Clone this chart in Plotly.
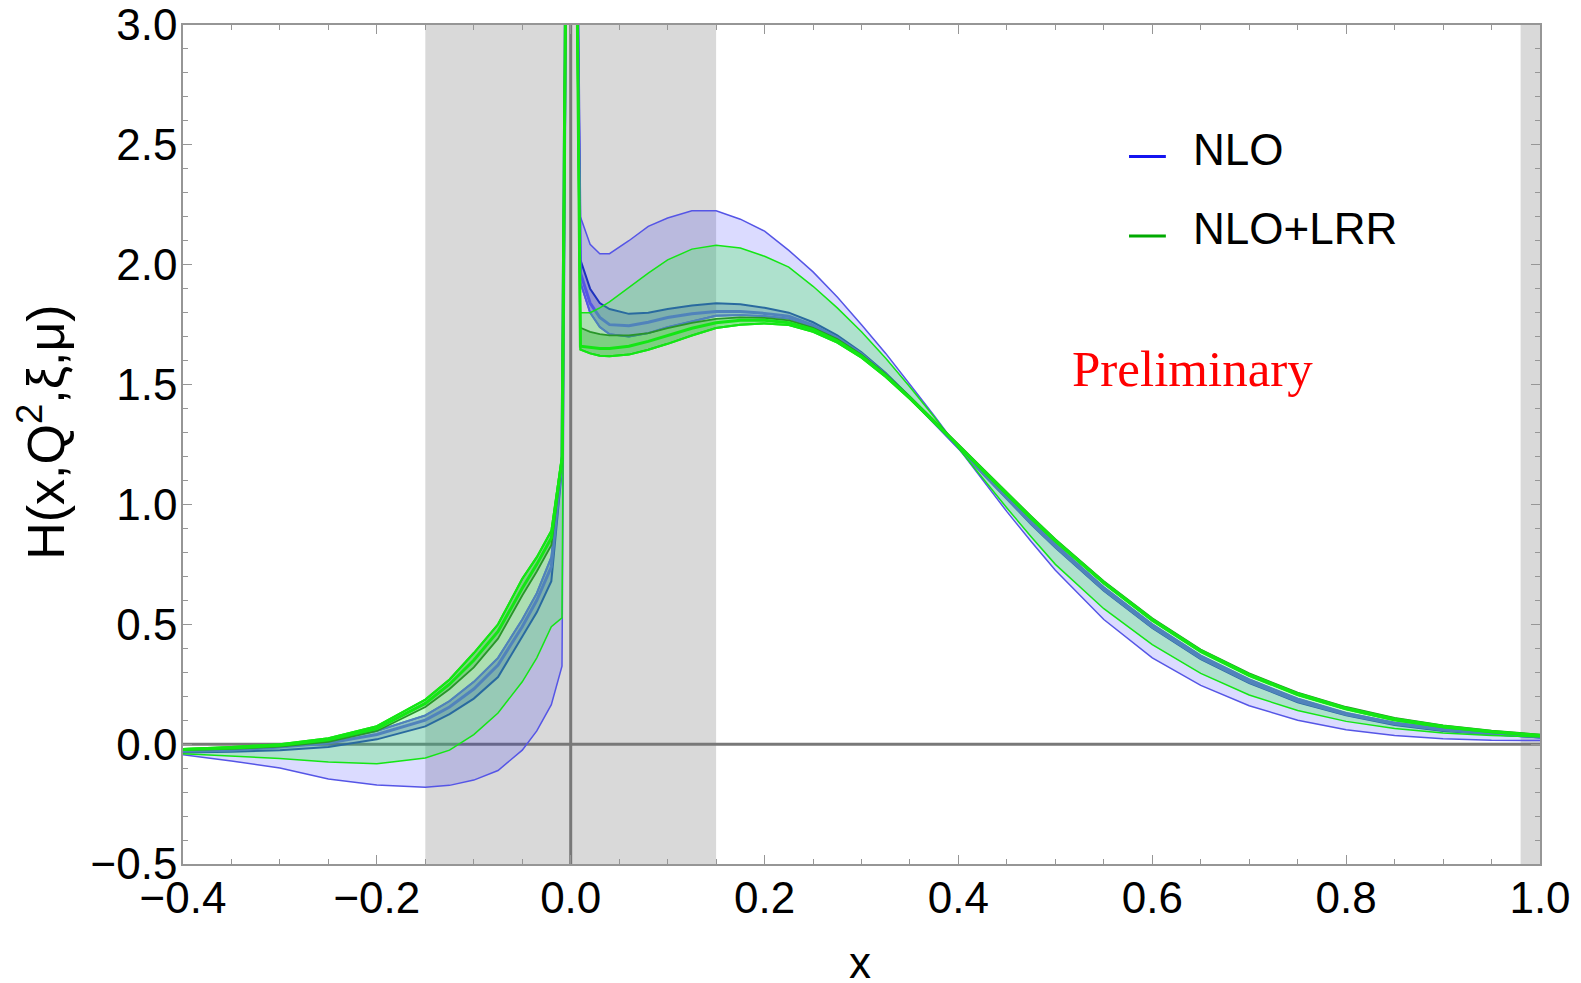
import plotly.graph_objects as go

# ---------------- data ----------------
x_vals = [-0.4, -0.35, -0.3, -0.25, -0.2, -0.15, -0.125, -0.1, -0.075, -0.05, -0.035, -0.02, -0.009,
          0.0,
          0.01, 0.02, 0.03, 0.04, 0.06, 0.08, 0.1, 0.125, 0.15, 0.175, 0.2,
          0.225, 0.25, 0.275, 0.3, 0.325, 0.35, 0.375, 0.4, 0.425, 0.45, 0.475,
          0.5, 0.55, 0.6, 0.65, 0.7, 0.75, 0.8, 0.85, 0.9, 0.95, 1.0]

# NLO (blue): wide edge, cluster edge, two inner curves
nlo_a = [-0.044, -0.07, -0.10, -0.145, -0.17, -0.18, -0.172, -0.15, -0.11, -0.025, 0.055, 0.165, 0.325,
         6.0,
         2.20, 2.085, 2.046, 2.046, 2.10, 2.16, 2.195, 2.225, 2.225, 2.19, 2.14,
         2.06, 1.97, 1.865, 1.75, 1.63, 1.50, 1.37, 1.235, 1.10, 0.97, 0.845,
         0.725, 0.52, 0.36, 0.245, 0.16, 0.10, 0.06, 0.036, 0.022, 0.016, 0.015]
nlo_b = [-0.025, -0.02, -0.005, 0.015, 0.055, 0.12, 0.18, 0.26, 0.36, 0.52, 0.63, 0.78, 1.2,
         6.0,
         1.925, 1.80, 1.74, 1.71, 1.70, 1.715, 1.74, 1.765, 1.787, 1.79, 1.785,
         1.775, 1.74, 1.69, 1.625, 1.54, 1.445, 1.345, 1.24, 1.135, 1.03, 0.93,
         0.835, 0.655, 0.50, 0.37, 0.27, 0.19, 0.13, 0.09, 0.065, 0.045, 0.03]
nlo_c = [-0.03, -0.025, -0.012, 0.005, 0.04, 0.10, 0.155, 0.23, 0.33, 0.49, 0.60, 0.74, 1.18,
         6.0,
         1.966, 1.84, 1.78, 1.75, 1.745, 1.76, 1.78, 1.795, 1.805, 1.805, 1.797,
         1.785, 1.748, 1.695, 1.628, 1.542, 1.445, 1.342, 1.237, 1.13, 1.024, 0.922,
         0.825, 0.645, 0.49, 0.36, 0.26, 0.18, 0.125, 0.085, 0.06, 0.042, 0.03]
nlo_d = [-0.035, -0.032, -0.025, -0.012, 0.02, 0.074, 0.125, 0.19, 0.28, 0.45, 0.55, 0.68, 1.15,
         6.0,
         2.02, 1.90, 1.84, 1.815, 1.795, 1.80, 1.815, 1.83, 1.839, 1.835, 1.82,
         1.80, 1.76, 1.705, 1.635, 1.548, 1.448, 1.342, 1.235, 1.127, 1.02, 0.917,
         0.82, 0.64, 0.485, 0.355, 0.255, 0.175, 0.12, 0.08, 0.055, 0.04, 0.028]

# NLO+LRR (green): wide edge, cluster edge, two inner curves
lrr_a = [-0.04, -0.05, -0.06, -0.075, -0.082, -0.058, -0.025, 0.04, 0.13, 0.26, 0.36, 0.49, 0.527,
         6.0,
         1.80, 1.80, 1.82, 1.845, 1.905, 1.965, 2.02, 2.065, 2.081, 2.07, 2.035,
         1.99, 1.91, 1.82, 1.72, 1.61, 1.49, 1.365, 1.235, 1.11, 0.985, 0.865,
         0.75, 0.565, 0.415, 0.295, 0.205, 0.14, 0.095, 0.065, 0.046, 0.036, 0.03]
lrr_b = [-0.02, -0.012, 0.0, 0.025, 0.075, 0.186, 0.27, 0.38, 0.50, 0.69, 0.78, 0.89, 1.2,
         6.0,
         1.646, 1.63, 1.62, 1.618, 1.625, 1.645, 1.67, 1.705, 1.736, 1.75, 1.755,
         1.748, 1.72, 1.675, 1.612, 1.532, 1.44, 1.343, 1.242, 1.14, 1.04, 0.94,
         0.845, 0.67, 0.515, 0.385, 0.285, 0.205, 0.145, 0.10, 0.07, 0.05, 0.035]
lrr_c = [-0.022, -0.016, -0.005, 0.018, 0.065, 0.17, 0.25, 0.35, 0.47, 0.65, 0.75, 0.86, 1.19,
         6.0,
         1.66, 1.655, 1.65, 1.65, 1.66, 1.68, 1.705, 1.735, 1.758, 1.768, 1.768,
         1.758, 1.73, 1.683, 1.618, 1.537, 1.445, 1.347, 1.246, 1.145, 1.045, 0.946,
         0.85, 0.675, 0.52, 0.39, 0.29, 0.21, 0.15, 0.105, 0.075, 0.053, 0.037]
lrr_d = [-0.025, -0.02, -0.01, 0.01, 0.055, 0.155, 0.23, 0.32, 0.44, 0.62, 0.72, 0.83, 1.18,
         6.0,
         1.737, 1.72, 1.71, 1.705, 1.705, 1.715, 1.735, 1.757, 1.774, 1.78, 1.778,
         1.768, 1.737, 1.69, 1.624, 1.543, 1.45, 1.352, 1.25, 1.15, 1.05, 0.951,
         0.855, 0.68, 0.525, 0.395, 0.295, 0.215, 0.155, 0.11, 0.078, 0.056, 0.04]

shaded_regions = [(-0.15, 0.15), (0.98, 1.0)]
x_ticks = [-0.4, -0.2, 0.0, 0.2, 0.4, 0.6, 0.8, 1.0]
y_ticks = [-0.5, 0.0, 0.5, 1.0, 1.5, 2.0, 2.5, 3.0]
series_names = ["NLO", "NLO+LRR"]

# ---------------- styles ----------------
BLUE_LINE = "rgb(85,85,230)"
BLUE_DARK = "rgb(30,50,190)"
BLUE_FILL = "rgba(0,0,255,0.14)"
BLUE_INNER = "rgba(20,20,170,0.22)"
GREEN_LINE = "rgb(20,230,20)"
GREEN_DARK = "rgb(40,150,40)"
GREEN_FILL = "rgba(70,240,90,0.30)"
GREEN_INNER = "rgba(0,170,0,0.28)"

fig = go.Figure()


def band(lo, hi, fill, color_lo, color_hi, w_lo, w_hi):
    fig.add_trace(go.Scatter(x=x_vals, y=lo, mode="lines",
                             line=dict(color=color_lo, width=w_lo),
                             showlegend=False, hoverinfo="skip"))
    fig.add_trace(go.Scatter(x=x_vals, y=hi, mode="lines", fill="tonexty",
                             fillcolor=fill, line=dict(color=color_hi, width=w_hi),
                             showlegend=False, hoverinfo="skip"))


# NLO bands
band(nlo_a, nlo_b, BLUE_FILL, BLUE_LINE, BLUE_LINE, 1.5, 1.8)
band(nlo_b, nlo_d, BLUE_INNER, BLUE_LINE, BLUE_DARK, 1.8, 2.0)
fig.add_trace(go.Scatter(x=x_vals, y=nlo_c, mode="lines",
                         line=dict(color=BLUE_LINE, width=3),
                         showlegend=False, hoverinfo="skip"))
# NLO+LRR bands
band(lrr_a, lrr_b, GREEN_FILL, GREEN_LINE, GREEN_LINE, 1.5, 2.0)
band(lrr_b, lrr_d, GREEN_INNER, GREEN_LINE, GREEN_DARK, 2.0, 1.8)
fig.add_trace(go.Scatter(x=x_vals, y=lrr_c, mode="lines",
                         line=dict(color=GREEN_LINE, width=3),
                         showlegend=False, hoverinfo="skip"))

# gray shaded x-regions
for x0, x1 in shaded_regions:
    fig.add_shape(type="rect", xref="x", yref="paper", x0=x0, x1=x1, y0=0, y1=1,
                  fillcolor="rgb(217,217,217)", line_width=0, layer="below")
# axes through origin
fig.add_shape(type="line", xref="paper", yref="y", x0=0, x1=1, y0=0, y1=0,
              line=dict(color="rgb(120,120,120)", width=3), layer="below")
fig.add_shape(type="line", xref="x", yref="paper", x0=0, x1=0, y0=0, y1=1,
              line=dict(color="rgb(120,120,120)", width=3), layer="below")

# legend (manual, as in the reference)
leg_colors = ["rgb(20,20,240)", "rgb(0,170,0)"]
leg_y = [2.451, 2.12]
for name, col, yy in zip(series_names, leg_colors, leg_y):
    fig.add_shape(type="line", xref="x", yref="y", x0=0.576, x1=0.614, y0=yy, y1=yy,
                  line=dict(color=col, width=3))
    fig.add_annotation(x=0.64, y=yy + 0.03, xref="x", yref="y", text=name, showarrow=False,
                       xanchor="left", yanchor="middle",
                       font=dict(family="Liberation Sans, Arial", size=44, color="black"))

fig.add_annotation(x=0.641, y=1.565, xref="x", yref="y", text="Preliminary", showarrow=False,
                   xanchor="center", yanchor="middle",
                   font=dict(family="Liberation Serif, Times New Roman", size=51, color="red"))

# axis titles
fig.add_annotation(x=0.499, y=-0.117, xref="paper", yref="paper", text="x", showarrow=False,
                   xanchor="center", yanchor="middle",
                   font=dict(family="Liberation Sans, Arial", size=44, color="black"))
fig.add_annotation(x=-0.104, y=0.515, xref="paper", yref="paper",
                   text="H(x,Q<sup>2</sup>,ξ,μ)", showarrow=False, textangle=-90,
                   xanchor="center", yanchor="middle",
                   font=dict(family="Liberation Sans, Arial", size=52, color="black"))

axis_common = dict(showline=True, mirror="ticks", linecolor="rgb(150,150,150)", linewidth=1.5,
                   ticks="inside", ticklen=9, tickwidth=1.2, tickcolor="rgb(150,150,150)",
                   showgrid=False, zeroline=False, automargin=False,
                   ticklabeloverflow="allow")

fig.update_layout(
    width=1573, height=975,
    margin=dict(l=175, r=41, t=17, b=119),
    plot_bgcolor="white", paper_bgcolor="white",
    showlegend=False,
    xaxis=dict(range=[-0.4, 1.0], tickvals=x_ticks, tickformat=".1f", ticklabelstandoff=-6,
               tickfont=dict(family="Liberation Sans, Arial", size=44, color="black"),
               minor=dict(dtick=0.05, ticklen=5, ticks="inside", tickcolor="rgb(150,150,150)"),
               **axis_common),
    yaxis=dict(range=[-0.5, 3.0], tickvals=y_ticks, tickformat=".1f", ticklabelstandoff=-5,
               tickfont=dict(family="Liberation Sans, Arial", size=44, color="black"),
               minor=dict(dtick=0.1, ticklen=5, ticks="inside", tickcolor="rgb(150,150,150)"),
               **axis_common),
)

fig.write_html("out.html")
